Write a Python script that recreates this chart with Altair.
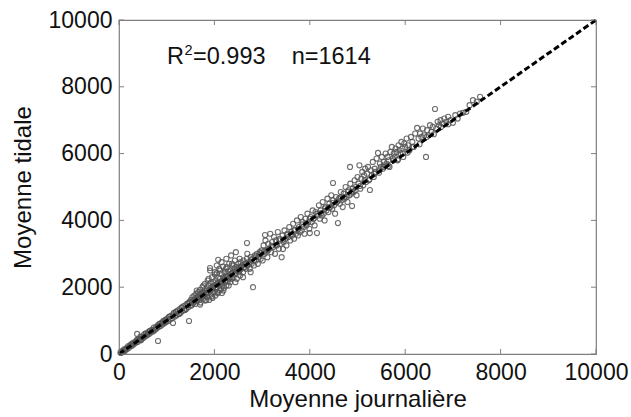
import altair as alt
import pandas as pd

# --- data (Moyenne journalière vs Moyenne tidale) ---
journaliere = [
    30, 50, 70, 90, 110, 130, 150, 170, 190, 210, 230, 250, 270, 290, 310, 330, 350, 370, 390, 410,
    430, 450, 470, 490, 510, 530, 550, 570, 590, 610, 630, 650, 670, 690, 710, 730, 750, 770, 790, 810,
    830, 850, 870, 890, 910, 930, 950, 970, 990, 120, 260, 380, 460, 560, 640, 720, 840, 920, 980, 380,
    818, 1132, 1468,
    1010, 1030, 1060, 1080, 1100, 1120, 1150, 1170, 1190, 1210, 1230, 1250, 1270, 1290, 1310, 1330, 1350, 1370, 1390, 1410,
    1430, 1450, 1470, 1490, 1050, 1140, 1200, 1260, 1320, 1380, 1440, 1480,
    1510, 1520, 1540, 1550, 1560, 1580, 1600, 1610, 1620, 1640, 1650, 1660, 1680, 1690, 1700, 1710, 1720, 1740, 1750, 1760,
    1780, 1790, 1800, 1810, 1820, 1840, 1850, 1860, 1870, 1880, 1890, 1900, 1910, 1920, 1930, 1940, 1950, 1960, 1970, 1980,
    1990, 2000, 2010, 2020, 2030, 2040, 2050, 2060, 2070, 2080, 2090, 2100, 2110, 2120, 2130, 2140, 2150, 2160, 2170, 2180,
    2190, 2200, 2210, 2220, 2230, 2240, 2250, 2260, 2270, 2280, 2290, 2300, 2310, 2320, 2330, 2340, 2350, 2360, 2380, 2390,
    2400, 2420, 2430, 2440, 2460, 2470, 2480, 2500, 2510, 2520, 2540, 2550, 2560, 2580, 2600, 2610, 2620, 2640, 2660, 2680,
    2700, 2720, 2740, 2760, 2780, 2800, 2810, 2830, 2850, 2870, 2890, 2910, 2930, 2950, 2970, 2990, 2080, 1908, 2159,
    1630, 1700, 1770, 1830, 1880, 1950, 2010, 2060, 2120, 2190, 2240, 2300, 2370, 2440, 2530, 2600, 2690, 2760,
    2150, 2250, 2350, 2050, 2450, 2683, 3061, 3438,
    1530, 1570, 1590, 1630, 1670, 1730, 1770, 1830, 1870, 1930, 1970, 2030, 2070, 2130, 2170, 2230, 2270, 2330, 2370, 2430,
    2470, 2530, 2570, 2630, 2670, 2730, 2770, 2830, 2870, 2930, 2970, 3040, 3120, 3200, 3280, 3360, 3440, 3520, 3600, 3680,
    3760, 3840, 3920, 4000, 4080, 4160, 4240, 4320, 4400, 4480, 4560, 4640, 4720, 4800, 4880, 4960, 5050, 5150, 5250, 5350,
    5450, 5550, 5650, 5750, 5850, 5950, 6050, 6150, 6300, 6450, 6600, 6750, 6900,
    3010, 3030, 3050, 3070, 3090, 3110, 3130, 3150, 3170, 3190, 3210, 3230, 3250, 3270, 3290, 3310, 3330, 3350, 3370, 3390,
    3410, 3430, 3450, 3470, 3490, 3510, 3530, 3550, 3570, 3590, 3610, 3630, 3650, 3670, 3690, 3710, 3730, 3750, 3770, 3790,
    3810, 3830, 3850, 3870, 3890, 3910, 3930, 3950, 3970, 3990, 4000, 4020, 4040, 4060, 4080, 4100, 4120, 4150, 4170, 4190,
    4210, 4230, 4250, 4270, 4290, 4310, 4330, 4350, 4370, 4390, 4410, 4430, 4450, 4470, 4490, 4510, 4530, 4550, 4570, 4590,
    4610, 4630, 4650, 4670, 4690, 4710, 4730, 4750, 4770, 4790, 4810, 4830, 4850, 4870, 4885, 4900, 4920, 4940, 4960, 4980,
    4486, 4843,
    5000, 5020, 5040, 5060, 5080, 5100, 5120, 5140, 5160, 5180, 5200, 5220, 5240, 5260, 5280, 5300, 5320, 5340, 5360, 5380,
    5400, 5430, 5450, 5470, 5490, 5510, 5530, 5550, 5570, 5590, 5610, 5630, 5650, 5670, 5690, 5720, 5740, 5760, 5780, 5800,
    5820, 5840, 5860, 5880, 5900, 5920, 5940, 5960, 5980, 6000, 6030, 6060, 6090, 6120, 6150, 6180, 6210, 6250, 6280, 6310,
    6340, 6370, 6400, 6436, 6460, 6490, 6520, 6550, 6580, 6625, 6650, 6680, 6710, 6740, 6780, 6820, 6860, 6900, 6950, 7000,
    7050, 7100, 7150, 7210, 7280, 7350, 7420, 7500, 7570,
]
tidale = [
    40, 35, 95, 80, 140, 120, 170, 150, 230, 190, 260, 240, 250, 330, 290, 360, 340, 400, 360, 450,
    420, 520, 440, 510, 480, 590, 530, 600, 560, 650, 600, 690, 640, 720, 700, 790, 720, 800, 760, 850,
    810, 900, 840, 930, 880, 990, 920, 1010, 960, 90, 300, 420, 410, 620, 680, 680, 880, 950, 1020, 600,
    389, 928, 988,
    1060, 990, 1120, 1040, 1150, 1080, 1230, 1120, 1250, 1160, 1300, 1200, 1340, 1230, 1380, 1290, 1430, 1320, 1460, 1350,
    1510, 1400, 1540, 1450, 1110, 1190, 1270, 1200, 1400, 1320, 1500, 1560,
    1620, 1450, 1700, 1520, 1600, 1750, 1500, 1680, 1800, 1580, 1720, 1850, 1620, 1760, 1920, 1540, 1700, 1820, 2000, 1650,
    1760, 1900, 2100, 1600, 1820, 1960, 1700, 2200, 1840, 2050, 1620, 1900, 2500, 2120, 1780, 2000, 2300, 1680, 1960, 2150,
    1850, 2050, 2380, 1750, 2200, 1950, 2420, 2100, 1820, 2280, 2050, 2550, 1900, 2250, 2150, 1950, 2400, 2180, 2050, 2620,
    2300, 1980, 2250, 2450, 2150, 2350, 2050, 2600, 2300, 2180, 2480, 2250, 2700, 2350, 2150, 2500, 2400, 2250, 2650, 2450,
    2300, 2550, 2800, 2400, 2600, 2250, 2500, 2700, 2450, 2600, 2350, 2750, 2550, 2650, 2450, 2800, 2600, 2700, 2550, 2850,
    2650, 2750, 2550, 2900, 2700, 2850, 2000, 2650, 2950, 2800, 3000, 2700, 2950, 3050, 2850, 3100, 2820, 2575, 1826,
    1900, 1480, 2050, 1620, 2250, 1720, 2450, 1850, 2500, 1900, 2550, 2050, 2700, 2150, 2850, 2300, 3000, 2450,
    2750, 2850, 2950, 2650, 3050, 3320, 3560, 3140,
    1560, 1540, 1630, 1610, 1700, 1720, 1820, 1800, 1900, 1920, 2010, 2000, 2120, 2100, 2210, 2200, 2330, 2300, 2420, 2400,
    2520, 2500, 2620, 2600, 2720, 2700, 2820, 2800, 2920, 2900, 3020, 3060, 3100, 3240, 3260, 3400, 3420, 3560, 3580, 3720,
    3740, 3880, 3900, 4050, 4060, 4200, 4220, 4360, 4380, 4520, 4540, 4680, 4700, 4850, 4860, 5000, 5030, 5200, 5230, 5400,
    5430, 5600, 5630, 5800, 5830, 6000, 6030, 6200, 6280, 6500, 6580, 6800, 6880,
    2800, 3250, 3000, 3400, 3100, 2900, 3300, 3150, 3600, 3050, 3350, 3200, 3500, 3000, 3400, 3250, 3650, 3150, 3450, 3300,
    2900, 3550, 3350, 3700, 3450, 3250, 3600, 3500, 3800, 3400, 3650, 3550, 3900, 3450, 3700, 3600, 4000, 3550, 3800, 3650,
    4100, 3700, 3950, 3800, 3600, 4050, 3850, 4200, 3950, 3750, 3620, 4100, 3950, 4300, 4050, 3850, 4250, 3620, 4150, 4450,
    4050, 4300, 4150, 4550, 4200, 4000, 4400, 4300, 4650, 4250, 4500, 4400, 4750, 4350, 4600, 4450, 4200, 4700, 4550, 3920,
    4650, 4500, 4850, 4600, 4400, 4800, 4650, 5000, 4700, 4550, 4900, 4750, 5100, 4800, 4430, 4950, 4850, 5200, 4900, 4750,
    5120, 5600,
    5300, 5100, 5650, 4950, 5250, 5450, 5050, 5350, 5550, 5150, 5400, 5600, 5200, 4910, 5500, 5350, 5750, 5300, 5550, 5450,
    5850, 6020, 5500, 5700, 5600, 5900, 5550, 5750, 5650, 6000, 5700, 5900, 5800, 5600, 6050, 6200, 5850, 6000, 5900, 6150,
    6050, 5800, 6250, 6100, 6000, 6350, 6150, 5900, 6300, 6200, 6450, 6250, 6100, 6500, 6350, 6200, 6600, 6770, 6450, 6600,
    6500, 6750, 6550, 5900, 6700, 6550, 6850, 6650, 6800, 7335, 6750, 6950, 6850, 7000, 6900, 7050, 6950, 7100, 7000, 6920,
    7150, 7050, 7200, 7220, 7250, 7450, 7600, 7550, 7700,
]
line_x = [0, 10000]
line_y = [0, 10000]
tick_values = [0, 2000, 4000, 6000, 8000, 10000]
ann_main = ["R"]
ann_sup = ["2"]
ann_rest = ["=0.993\u00a0\u00a0\u00a0\u00a0n=1614"]

W, H = 477, 334
FONT = "Liberation Sans"
AX = "#7f7f7f"

pts = pd.DataFrame({"x": journaliere, "y": tidale})
line_df = pd.DataFrame({"x": line_x, "y": line_y})
ticks_df = pd.DataFrame({"v": tick_values})

xscale = alt.Scale(domain=[0, 10000], nice=False, zero=True)
yscale = alt.Scale(domain=[0, 10000], nice=False, zero=True)

x_axis = alt.Axis(
    values=tick_values, format="d", grid=False, domain=False, ticks=False, tickSize=0,
    labelFont=FONT, labelFontSize=23, labelColor="#111", labelPadding=7, labelFlush=False,
    title="Moyenne journalière", titleFont=FONT, titleFontSize=24, titleFontWeight="normal",
    titleColor="#111", titleX=W / 2, titleY=52, titleBaseline="alphabetic", titleAlign="center",
)
y_axis = alt.Axis(
    values=tick_values, format="d", grid=False, domain=False, ticks=False, tickSize=0,
    labelFont=FONT, labelFontSize=23, labelColor="#111", labelPadding=7, labelFlush=False,
    title="Moyenne tidale", titleFont=FONT, titleFontSize=24, titleFontWeight="normal",
    titleColor="#111", titleAngle=-90, titleX=-89, titleY=H / 2,
    titleBaseline="alphabetic", titleAlign="center",
)

scatter = alt.Chart(pts).mark_point(
    shape="circle", filled=False, size=26, strokeWidth=1.1, color="#555555", opacity=0.85
).encode(
    x=alt.X("x:Q", scale=xscale, axis=x_axis),
    y=alt.Y("y:Q", scale=yscale, axis=y_axis),
)

diag = alt.Chart(line_df).mark_line(
    color="black", strokeWidth=3, strokeDash=[6, 3]
).encode(
    x=alt.X("x:Q", scale=xscale, axis=x_axis),
    y=alt.Y("y:Q", scale=yscale, axis=y_axis),
)

tick_len = 5
bottom_ticks = alt.Chart(ticks_df).mark_rule(color=AX, strokeWidth=1).encode(
    x=alt.X("v:Q", scale=xscale, axis=x_axis), y=alt.value(H), y2=alt.value(H - tick_len))
top_ticks = alt.Chart(ticks_df).mark_rule(color=AX, strokeWidth=1).encode(
    x=alt.X("v:Q", scale=xscale, axis=x_axis), y=alt.value(0), y2=alt.value(tick_len))
left_ticks = alt.Chart(ticks_df).mark_rule(color=AX, strokeWidth=1).encode(
    y=alt.Y("v:Q", scale=yscale, axis=y_axis), x=alt.value(0), x2=alt.value(tick_len))
right_ticks = alt.Chart(ticks_df).mark_rule(color=AX, strokeWidth=1).encode(
    y=alt.Y("v:Q", scale=yscale, axis=y_axis), x=alt.value(W), x2=alt.value(W - tick_len))

lab_r = alt.Chart(pd.DataFrame({"t": ann_main})).mark_text(
    font=FONT, fontSize=23.5, color="#111", align="left", baseline="alphabetic"
).encode(text="t:N", x=alt.value(48), y=alt.value(44))
lab_sup = alt.Chart(pd.DataFrame({"t": ann_sup})).mark_text(
    font=FONT, fontSize=14.5, color="#111", align="left", baseline="alphabetic"
).encode(text="t:N", x=alt.value(65.5), y=alt.value(35))
lab_rest = alt.Chart(pd.DataFrame({"t": ann_rest})).mark_text(
    font=FONT, fontSize=23.5, color="#111", align="left", baseline="alphabetic"
).encode(text="t:N", x=alt.value(74), y=alt.value(44))

chart = alt.layer(
    scatter, diag, bottom_ticks, top_ticks, left_ticks, right_ticks, lab_r, lab_sup, lab_rest
).properties(
    width=W, height=H,
    autosize=alt.AutoSizeParams(type="none"),
    padding={"left": 119, "top": 20, "right": 35, "bottom": 63},
    background="white",
).configure_view(stroke=AX, strokeWidth=1.2)

chart.save("out.html", embed_options={"renderer": "svg", "actions": False})
